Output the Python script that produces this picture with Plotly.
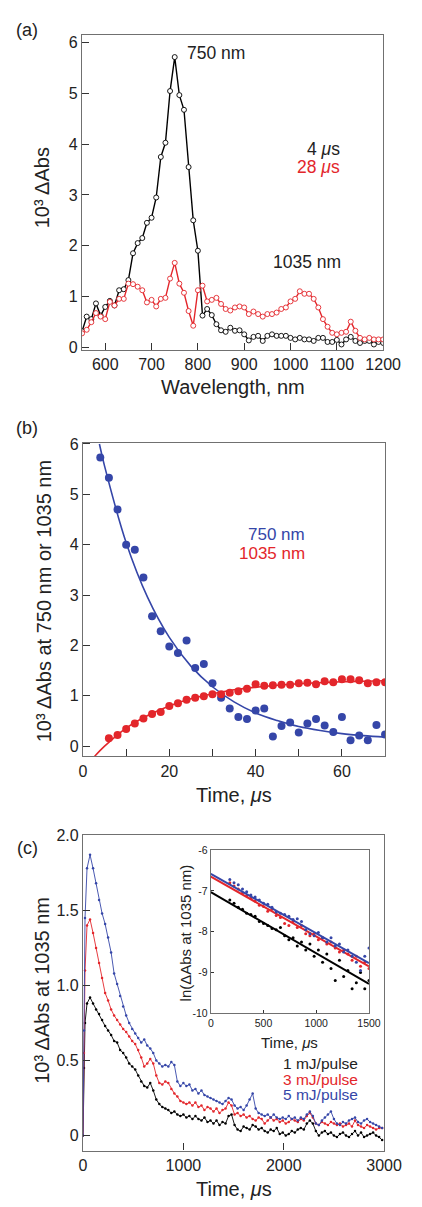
import plotly.graph_objects as go

W, H = 422, 1207          # browser window
OFF = 8                   # default body margin of the html page
FW, FH = W - OFF, H - OFF # figure size so the page fits the window exactly
FONT = "Liberation Sans, Arial, Helvetica, sans-serif"
RED = "#e3262b"
BLUE = "#3546a8"

# ---------------- Panel (a): transient spectra ----------------
wl = [550, 560, 570, 580, 590, 600, 610, 620, 630, 640, 650, 660, 670, 680, 690, 700,
      710, 720, 730, 740, 750, 760, 770, 780, 790, 800, 810, 820, 830, 840, 850, 860,
      870, 880, 890, 900, 910, 920, 930, 940, 950, 960, 970, 980, 990, 1000, 1010, 1020,
      1030, 1040, 1050, 1060, 1070, 1080, 1090, 1100, 1110, 1120, 1130, 1140, 1150, 1160,
      1170, 1180, 1190, 1200]
abs_4us = [0.31, 0.60, 0.55, 0.86, 0.62, 0.79, 0.91, 0.82, 1.12, 1.14, 1.32, 1.85, 2.05, 2.15, 2.45, 2.55,
           2.95, 3.75, 4.03, 5.05, 5.72, 4.97, 4.68, 3.55, 2.50, 1.90, 0.62, 0.75, 0.63, 0.45, 0.33, 0.30,
           0.38, 0.32, 0.33, 0.25, 0.13, 0.20, 0.22, 0.12, 0.22, 0.25, 0.22, 0.22, 0.22, 0.18, 0.15, 0.18,
           0.15, 0.15, 0.12, 0.18, 0.18, 0.10, 0.10, 0.14, 0.05, 0.15, 0.20, 0.12, 0.08, 0.12,
           0.12, 0.05, 0.10, 0.08]
abs_28us = [0.27, 0.34, 0.49, 0.67, 0.60, 0.55, 0.89, 0.82, 0.95, 0.95, 1.25, 1.24, 1.19, 1.12, 0.88, 0.93,
            0.80, 0.95, 0.97, 1.35, 1.66, 1.25, 1.07, 0.71, 0.42, 1.12, 1.21, 0.90, 0.93, 0.97, 0.85, 0.75,
            0.72, 0.78, 0.80, 0.78, 0.65, 0.70, 0.65, 0.60, 0.65, 0.65, 0.68, 0.75, 0.78, 0.90, 0.95, 1.10,
            1.05, 1.05, 0.95, 0.78, 0.55, 0.40, 0.28, 0.25, 0.28, 0.30, 0.50, 0.32, 0.18, 0.15,
            0.18, 0.15, 0.15, 0.15]

# ---------------- Panel (b): kinetics at 750 / 1035 nm ----------------
t_b750 = [4, 6, 8, 10, 12, 14, 16, 18, 20, 22, 24, 26, 28, 30, 32, 34, 36, 38, 40, 42, 44, 46,
          48, 50, 52, 54, 56, 58, 60, 62, 64, 66, 68, 70]
abs_750 = [5.73, 5.33, 4.70, 4.00, 3.90, 3.35, 2.58, 2.28, 1.98, 1.85, 2.10, 1.55, 1.63, 1.25, 0.96,
           0.75, 0.58, 0.54, 0.71, 0.75, 0.19, 0.40, 0.47, 0.27, 0.45, 0.54, 0.41, 0.28, 0.58, 0.12,
           0.21, 0.12, 0.42, 0.23]
t_b1035 = [6, 8, 10, 12, 14, 16, 18, 20, 22, 24, 26, 28, 30, 32, 34, 36, 38, 40, 42, 44, 46, 48,
           50, 52, 54, 56, 58, 60, 62, 64, 66, 68, 70]
abs_1035 = [0.16, 0.22, 0.34, 0.45, 0.55, 0.64, 0.68, 0.80, 0.85, 0.92, 0.96, 0.99, 1.03, 1.03, 1.06,
            1.09, 1.14, 1.23, 1.20, 1.21, 1.22, 1.22, 1.25, 1.26, 1.23, 1.29, 1.27, 1.33, 1.33, 1.31,
            1.25, 1.27, 1.27]
# fitted curves
t_fit750 = [3.8, 5, 10, 15, 20, 25, 30, 35, 40, 45, 50, 55, 60, 65, 70]
fit_750 = [6.00, 5.56, 4.04, 2.95, 2.16, 1.59, 1.18, 0.88, 0.66, 0.51, 0.39, 0.31, 0.25, 0.21, 0.18]
t_fit1035 = [2.7, 5, 10, 15, 20, 25, 30, 35, 40, 45, 50, 55, 60, 65, 70]
fit_1035 = [-0.20, 0.00, 0.36, 0.61, 0.80, 0.94, 1.04, 1.12, 1.17, 1.21, 1.24, 1.26, 1.28, 1.29, 1.30]

# ---------------- Panel (c): decays at 1035 nm vs laser power ----------------
t_c_start = [0, 10, 20, 40, 70]
c_1mJ = [0.00, 0.45, 0.75, 0.88, 0.92,
         0.88, 0.84, 0.81, 0.77, 0.73, 0.70, 0.67, 0.63, 0.62, 0.57,
         0.55, 0.52, 0.48, 0.46, 0.44, 0.40, 0.36, 0.33, 0.32, 0.35,
         0.30, 0.24, 0.21, 0.19, 0.18, 0.17, 0.15, 0.16, 0.14, 0.13,
         0.14, 0.12, 0.13, 0.11, 0.13, 0.11, 0.10, 0.12, 0.09, 0.10,
         0.08, 0.10, 0.07, 0.09, 0.08, 0.13, 0.14, 0.07, 0.04, 0.03,
         0.06, 0.05, 0.04, 0.07, 0.06, 0.04, 0.05, 0.03, 0.02, 0.04,
         0.03, 0.05, 0.01, 0.02, 0.00, 0.01, 0.03, 0.02, 0.04, 0.05,
         0.04, 0.08, 0.10, 0.08, 0.03, 0.00, 0.02, 0.03, 0.01, 0.02,
         0.00, -0.01, 0.01, 0.02, 0.00, -0.01, 0.01, 0.03, 0.00, 0.02,
         -0.01, 0.00, 0.01, 0.02, 0.00, -0.01, -0.03]
c_3mJ = [0.00, 0.55, 1.10, 1.40, 1.44,
         1.35, 1.25, 1.15, 1.05, 0.95, 0.90, 0.84, 0.80, 0.77, 0.74,
         0.71, 0.69, 0.66, 0.63, 0.61, 0.57, 0.52, 0.46, 0.48, 0.51,
         0.48, 0.40, 0.35, 0.34, 0.36, 0.35, 0.31, 0.28, 0.26, 0.23,
         0.22, 0.21, 0.22, 0.20, 0.22, 0.19, 0.20, 0.17, 0.19, 0.18,
         0.16, 0.18, 0.15, 0.17, 0.18, 0.22, 0.20, 0.14, 0.15, 0.13,
         0.14, 0.12, 0.13, 0.11, 0.10, 0.12, 0.11, 0.08, 0.10, 0.12,
         0.10, 0.11, 0.09, 0.10, 0.08, 0.09, 0.11, 0.10, 0.09, 0.11,
         0.10, 0.13, 0.15, 0.12, 0.08, 0.07, 0.09, 0.08, 0.07, 0.09,
         0.08, 0.07, 0.08, 0.06, 0.07, 0.08, 0.06, 0.10, 0.07, 0.06,
         0.05, 0.07, 0.06, 0.05, 0.04, 0.05, 0.05]
c_5mJ = [0.00, 0.70, 1.45, 1.78, 1.87,
         1.78, 1.68, 1.57, 1.48, 1.41, 1.32, 1.22, 1.08, 1.01, 0.93,
         0.86, 0.80, 0.75, 0.71, 0.68, 0.65, 0.62, 0.64, 0.60, 0.58,
         0.55, 0.50, 0.48, 0.46, 0.47, 0.46, 0.49, 0.47, 0.36, 0.33,
         0.35, 0.33, 0.34, 0.30, 0.31, 0.28, 0.30, 0.27, 0.26, 0.25,
         0.24, 0.23, 0.22, 0.21, 0.23, 0.25, 0.24, 0.20, 0.18, 0.19,
         0.17, 0.20, 0.24, 0.28, 0.18, 0.15, 0.14, 0.13, 0.14, 0.12,
         0.14, 0.12, 0.11, 0.12, 0.11, 0.13, 0.11, 0.12, 0.10, 0.12,
         0.11, 0.14, 0.16, 0.13, 0.08, 0.07, 0.10, 0.12, 0.14, 0.16,
         0.11, 0.08, 0.07, 0.09, 0.08, 0.10, 0.11, 0.12, 0.09, 0.08,
         0.10, 0.11, 0.09, 0.08, 0.07, 0.06, 0.05]

# ---------------- Inset: ln(dAbs) vs time ----------------
t_in = [180, 220, 260, 300, 340, 380, 420, 460, 500, 540, 580, 620, 660, 700, 740, 780, 820,
        860, 900, 940, 980, 1020, 1060, 1100, 1140, 1180, 1220, 1260, 1300, 1340, 1380, 1420,
        1460, 1500]
ln_1mJ = [-7.22, -7.30, -7.40, -7.45, -7.55, -7.58, -7.62, -7.75, -7.80, -7.85, -7.92, -7.95, -7.90,
          -8.10, -8.20, -8.15, -8.35, -8.25, -8.45, -8.30, -8.60, -8.45, -8.75, -8.55, -8.90, -9.20,
          -8.70, -9.10, -8.95, -9.40, -9.25, -9.00, -9.40, -9.20]
ln_3mJ = [-6.80, -6.88, -6.95, -7.05, -7.12, -7.18, -7.25, -7.35, -7.38, -7.50, -7.45, -7.60, -7.65,
          -7.80, -7.85, -7.75, -7.90, -7.85, -8.05, -8.10, -8.05, -8.20, -8.15, -8.30, -8.25, -8.40,
          -8.50, -8.45, -8.55, -8.70, -8.60, -8.85, -8.75, -8.90]
ln_5mJ = [-6.72, -6.80, -6.85, -6.95, -7.02, -7.10, -7.15, -7.22, -7.30, -7.33, -7.40, -7.52, -7.55,
          -7.58, -7.62, -7.70, -7.68, -7.75, -7.95, -8.05, -8.10, -8.02, -8.15, -8.25, -8.15, -8.35,
          -8.30, -8.50, -8.45, -8.60, -8.75, -8.95, -8.60, -8.40]
t_in_fit = [0, 1500]
fit_ln_1mJ = [-7.03, -9.28]
fit_ln_3mJ = [-6.65, -8.85]
fit_ln_5mJ = [-6.58, -8.77]


def times_c(vals):
    return t_c_start + [100 + 30 * i for i in range(len(vals) - len(t_c_start))]


def px(x):
    return (x - OFF) / FW


def py(y):
    return 1 - (y - OFF) / FH


fig = go.Figure()

# (a)
fig.add_trace(go.Scatter(x=wl, y=abs_4us, mode="lines+markers", xaxis="x", yaxis="y",
                         line=dict(color="black", width=1.4),
                         marker=dict(symbol="circle", size=5, color="white",
                                     line=dict(color="black", width=0.9))))
fig.add_trace(go.Scatter(x=wl, y=abs_28us, mode="lines+markers", xaxis="x", yaxis="y",
                         line=dict(color=RED, width=1.4),
                         marker=dict(symbol="circle", size=5, color="white",
                                     line=dict(color=RED, width=0.9))))
# (b)
fig.add_trace(go.Scatter(x=t_fit750, y=fit_750, mode="lines", xaxis="x2", yaxis="y2",
                         line=dict(color=BLUE, width=1.6, shape="spline")))
fig.add_trace(go.Scatter(x=t_fit1035, y=fit_1035, mode="lines", xaxis="x2", yaxis="y2",
                         line=dict(color=RED, width=1.6, shape="spline")))
fig.add_trace(go.Scatter(x=t_b750, y=abs_750, mode="markers", xaxis="x2", yaxis="y2",
                         marker=dict(size=8, color=BLUE)))
fig.add_trace(go.Scatter(x=t_b1035, y=abs_1035, mode="markers", xaxis="x2", yaxis="y2",
                         marker=dict(size=8, color=RED)))
# (c)
for vals, col in [(c_1mJ, "black"), (c_3mJ, RED), (c_5mJ, BLUE)]:
    fig.add_trace(go.Scatter(x=times_c(vals), y=vals, mode="lines+markers", xaxis="x3", yaxis="y3",
                             line=dict(color=col, width=0.9),
                             marker=dict(size=2.5, color=col)))
# inset
for vals, fit, col in [(ln_1mJ, fit_ln_1mJ, "black"), (ln_3mJ, fit_ln_3mJ, RED),
                       (ln_5mJ, fit_ln_5mJ, BLUE)]:
    fig.add_trace(go.Scatter(x=t_in, y=vals, mode="markers", xaxis="x4", yaxis="y4",
                             marker=dict(size=3, color=col)))
    fig.add_trace(go.Scatter(x=t_in_fit, y=fit, mode="lines", xaxis="x4", yaxis="y4",
                             line=dict(color=col, width=2)))


def axis(domain, rng, anchor, tickvals, ticktext, size=16, ticklen=7, **kw):
    d = dict(domain=domain, range=rng, anchor=anchor, showline=True, mirror=True,
             linecolor="#707070", linewidth=1.3, ticks="inside", ticklen=ticklen, tickwidth=1.4,
             tickcolor="#333", showgrid=False, zeroline=False, tickvals=tickvals,
             ticktext=ticktext, tickfont=dict(size=size, color="#222", family=FONT))
    d.update(kw)
    return d


layout = dict(
    width=FW, height=FH, margin=dict(l=0, r=0, t=0, b=0), showlegend=False,
    paper_bgcolor="white", plot_bgcolor="white", font=dict(family=FONT, color="#222"),
    xaxis=axis([px(82), px(400)], [550, 1200], "y", [600, 700, 800, 900, 1000, 1100, 1200],
               ["600", "700", "800", "900", "1000", "1100", "1200"]),
    yaxis=axis([py(346), py(27)], [-0.06, 6.16], "x", [0, 1, 2, 3, 4, 5, 6],
               ["0", "1", "2", "3", "4", "5", "6"]),
    xaxis2=axis([px(83), px(402)], [0, 70], "y2", [0, 20, 40, 60], ["0", "20", "40", "60"],
                minor=dict(tickvals=[10, 30, 50, 70], ticks="inside", ticklen=7, tickwidth=1.4,
                           tickcolor="#333", showgrid=False)),
    yaxis2=axis([py(757), py(440)], [-0.2, 6.02], "x2", [0, 1, 2, 3, 4, 5, 6],
                ["0", "1", "2", "3", "4", "5", "6"]),
    xaxis3=axis([px(83), px(401)], [0, 3000], "y3", [0, 1000, 2000, 3000],
                ["0", "1000", "2000", "3000"]),
    yaxis3=axis([py(1156), py(837)], [-0.1, 2.0], "x3", [0, 0.5, 1.0, 1.5, 2.0],
                ["0", "0.5", "1.0", "1.5", "2.0"]),
    xaxis4=axis([px(218), px(385)], [0, 1500], "y4", [0, 500, 1000, 1500],
                ["0", "500", "1000", "1500"], size=10.5, ticklen=3),
    yaxis4=axis([py(1017), py(852)], [-10, -6], "x4", [-10, -9, -8, -7, -6],
                ["-10", "-9", "-8", "-7", "-6"], size=10.5, ticklen=3),
)

ann = []


def text_px(x, y, s, size, color="#222", angle=0, xanchor="center"):
    ann.append(dict(x=px(x), y=py(y), xref="paper", yref="paper", text=s, showarrow=False,
                    textangle=angle, xanchor=xanchor, yanchor="middle",
                    font=dict(size=size, color=color, family=FONT)))


def text_data(xr, yr, x, y, s, size, color="#222", xanchor="left"):
    ann.append(dict(x=x, y=y, xref=xr, yref=yr, text=s, showarrow=False, xanchor=xanchor,
                    yanchor="middle", font=dict(size=size, color=color, family=FONT)))


# panel labels
text_px(24, 22, "(a)", 18)
text_px(24, 425, "(b)", 18)
text_px(24, 850, "(c)", 18)
# axis titles
text_px(241, 383, "Wavelength, nm", 20)
text_px(40, 182, "10³ ΔAbs", 20, angle=-90)
text_px(242, 796, "Time, <i>μ</i>s", 20)
text_px(42, 600, "10³ ΔAbs at 750 nm or 1035 nm", 20, angle=-90)
text_px(242, 1195, "Time, <i>μ</i>s", 20)
text_px(40, 994, "10³ ΔAbs at 1035 nm", 20, angle=-90)
text_px(301, 1047, "Time, <i>μ</i>s", 15)
text_px(191, 936, "ln(ΔAbs at 1035 nm)", 15, angle=-90)
# in-plot labels
text_data("x", "y", 772, 5.8, "750 nm", 17.5)
text_data("x", "y", 1112, 3.9, "4 <i>μ</i>s", 17.5, xanchor="right")
text_data("x", "y", 1112, 3.55, "28 <i>μ</i>s", 17.5, color=RED, xanchor="right")
text_data("x", "y", 1113, 1.68, "1035 nm", 17.5, xanchor="right")
text_data("x2", "y2", 51.8, 4.20, "750 nm", 17, color=BLUE, xanchor="right")
text_data("x2", "y2", 51.8, 3.82, "1035 nm", 17, color=RED, xanchor="right")
text_data("x3", "y3", 2755, 0.48, "1 mJ/pulse", 15.5, xanchor="right")
text_data("x3", "y3", 2755, 0.375, "3 mJ/pulse", 15.5, color=RED, xanchor="right")
text_data("x3", "y3", 2755, 0.276, "5 mJ/pulse", 15.5, color=BLUE, xanchor="right")

layout["annotations"] = ann
fig.update_layout(**layout)
fig.write_html("out.html")
